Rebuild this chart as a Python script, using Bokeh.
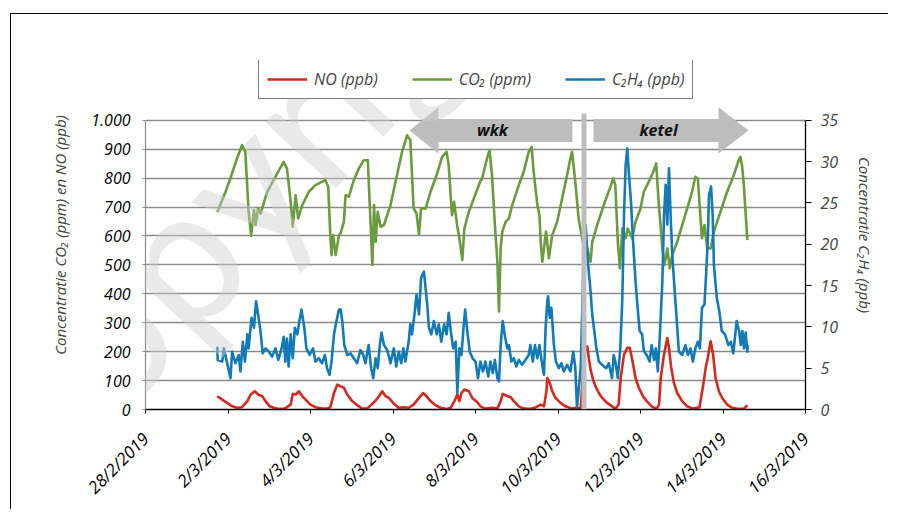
import math
import numpy as np
import pandas as pd
from bokeh.plotting import figure
from bokeh.models import (ColumnDataSource, Range1d, LinearAxis, FixedTicker,
                          CustomJSTickFormatter, Legend, LegendItem,
                          PolyAnnotation, Label)
from bokeh.embed import file_html
from bokeh.resources import INLINE

# ---------------- data ----------------
START = "2019-02-28"
END = "2019-03-16"

# days after 28/2/2019 00:00
no_days = [1.74, 1.86, 1.98, 2.10, 2.22, 2.34, 2.47, 2.55, 2.65, 2.73, 2.83, 2.91, 3.01, 3.11,
           3.23, 3.35, 3.43, 3.52, 3.57, 3.64, 3.72, 3.80, 3.88, 4.00, 4.12, 4.28, 4.40, 4.48,
           4.53, 4.57, 4.65, 4.73, 4.81, 4.89, 5.01, 5.13, 5.25, 5.37, 5.50, 5.58, 5.66, 5.74,
           5.82, 5.90, 6.02, 6.14, 6.26, 6.38, 6.50, 6.63, 6.73, 6.81, 6.91, 7.03, 7.15, 7.30,
           7.40, 7.49, 7.56, 7.61, 7.66, 7.73, 7.84, 7.92, 8.04, 8.12, 8.24, 8.40, 8.53, 8.61,
           8.66, 8.77, 8.85, 8.93, 9.05, 9.17, 9.33, 9.47, 9.58, 9.66, 9.72, 9.74, 9.80, 9.86,
           9.94, 10.06, 10.18, 10.34, 10.44, 10.55, 10.64, 10.71, 10.75, 10.79, 10.85, 10.91,
           10.99, 11.07, 11.19, 11.31, 11.39, 11.47, 11.52, 11.60, 11.68, 11.74, 11.80, 11.88,
           11.96, 12.06, 12.15, 12.27, 12.39, 12.45, 12.49, 12.57, 12.65, 12.69, 12.74, 12.81,
           12.89, 13.01, 13.13, 13.27, 13.43, 13.51, 13.58, 13.63, 13.70, 13.76, 13.82, 13.90,
           13.98, 14.10, 14.22, 14.38, 14.51, 14.59]
no_ppb = [46, 34, 23, 11, 6, 8, 29, 52, 63, 52, 46, 29, 11, 6,
          2, 2, 8, 17, 54, 52, 63, 46, 34, 17, 8, 3, 3, 8,
          34, 57, 86, 80, 75, 52, 29, 15, 3, 3, 20, 31, 46, 63,
          46, 40, 20, 6, 8, 6, 17, 40, 57, 46, 29, 15, 6, 2,
          6, 29, 52, 29, 57, 69, 63, 40, 26, 11, 3, 6, 3, 29,
          54, 46, 43, 29, 11, 3, 2, 8, 17, 11, 63, 109, 92, 63,
          40, 23, 11, 3, 6, 3, 200, 218, 175, 138, 103, 80,
          57, 40, 23, 11, 2, 17, 109, 190, 213, 213, 172, 109,
          75, 46, 29, 11, 2, 17, 109, 190, 247, 213, 149, 92,
          57, 29, 11, 3, 8, 75, 144, 178, 236, 190, 109, 63,
          40, 17, 6, 2, 3, 15]

co2_days = [1.74, 1.94, 2.06, 2.22, 2.34, 2.42, 2.50, 2.56, 2.63, 2.67, 2.73, 2.79, 2.95, 3.15,
            3.35, 3.43, 3.52, 3.57, 3.64, 3.70, 3.80, 3.96, 4.12, 4.36, 4.43, 4.48, 4.51, 4.55,
            4.61, 4.69, 4.73, 4.81, 4.85, 4.93, 5.05, 5.17, 5.29, 5.39, 5.44, 5.50, 5.54, 5.58,
            5.63, 5.70, 5.78, 5.94, 6.06, 6.22, 6.34, 6.42, 6.50, 6.57, 6.63, 6.68, 6.79, 6.91,
            7.07, 7.19, 7.30, 7.35, 7.43, 7.48, 7.56, 7.61, 7.68, 7.73, 7.84, 7.96, 8.12, 8.16,
            8.28, 8.34, 8.40, 8.47, 8.53, 8.57, 8.61, 8.65, 8.73, 8.81, 8.89, 9.05, 9.17, 9.29,
            9.36, 9.41, 9.50, 9.55, 9.58, 9.62, 9.71, 9.78, 9.86, 9.98, 10.10, 10.22, 10.30,
            10.34, 10.42, 10.50, 10.60, 10.71, 10.79, 10.83, 10.95, 11.11, 11.27, 11.34, 11.39,
            11.45, 11.50, 11.56, 11.64, 11.69, 11.80, 11.88, 12.00, 12.08, 12.20, 12.31, 12.38,
            12.44, 12.53, 12.58, 12.65, 12.71, 12.77, 12.89, 13.01, 13.13, 13.25, 13.33, 13.39,
            13.45, 13.49, 13.55, 13.62, 13.70, 13.78, 13.94, 14.10, 14.26, 14.38, 14.42, 14.46,
            14.50, 14.59]
co2_ppm = [682, 753, 800, 869, 914, 891, 684, 601, 690, 638, 695, 678, 753, 805,
           856, 833, 718, 632, 741, 661, 707, 753, 776, 793, 770, 603, 534, 603,
           534, 603, 609, 650, 741, 736, 793, 833, 862, 862, 695, 500, 707, 580,
           684, 632, 638, 707, 787, 891, 948, 931, 695, 678, 606, 695, 695, 753,
           816, 874, 891, 845, 672, 718, 632, 592, 517, 626, 684, 730, 790, 799,
           868, 897, 810, 638, 511, 339, 557, 615, 649, 661, 707, 776, 822, 891,
           908, 822, 707, 672, 580, 511, 615, 523, 603, 649, 730, 810, 868,
           891, 787, 661, 580, 557, 511, 580, 638, 707, 770, 799, 776,
           580, 488, 626, 592, 626, 592, 649, 695, 753, 787, 822, 851,
           718, 557, 500, 557, 488, 534, 580, 638, 695, 753, 805, 799,
           672, 592, 638, 557, 557, 615, 684, 753, 810, 862, 874, 845,
           787, 586]

c2h4_days = [1.74, 1.75, 1.86, 1.90, 1.98, 2.06, 2.10, 2.18, 2.26, 2.30, 2.36, 2.41, 2.47, 2.50,
             2.57, 2.63, 2.68, 2.73, 2.79, 2.84, 2.91, 2.99, 3.07, 3.15, 3.22, 3.30, 3.35, 3.39,
             3.43, 3.47, 3.52, 3.57, 3.62, 3.68, 3.73, 3.78, 3.85, 3.90, 3.98, 4.06, 4.12, 4.20,
             4.28, 4.35, 4.40, 4.46, 4.51, 4.57, 4.63, 4.69, 4.73, 4.77, 4.82, 4.89, 4.97, 5.05,
             5.13, 5.21, 5.28, 5.33, 5.41, 5.47, 5.52, 5.58, 5.63, 5.68, 5.72, 5.78, 5.86, 5.94,
             6.02, 6.08, 6.14, 6.20, 6.25, 6.30, 6.38, 6.42, 6.46, 6.52, 6.57, 6.63, 6.68, 6.75,
             6.79, 6.83, 6.87, 6.93, 6.99, 7.06, 7.11, 7.17, 7.24, 7.30, 7.35, 7.40, 7.46, 7.52,
             7.56, 7.61, 7.66, 7.71, 7.75, 7.80, 7.86, 7.93, 8.00, 8.06, 8.12, 8.18, 8.24, 8.31,
             8.36, 8.42, 8.47, 8.53, 8.57, 8.61, 8.66, 8.71, 8.77, 8.81, 8.87, 8.93, 8.99, 9.05,
             9.13, 9.21, 9.29, 9.33, 9.39, 9.44, 9.50, 9.55, 9.60, 9.66, 9.70, 9.74, 9.76, 9.80,
             9.84, 9.90, 9.95, 10.02, 10.08, 10.14, 10.22, 10.30, 10.37, 10.42, 10.46, 10.55,
             10.64, 10.67, 10.73, 10.79, 10.83, 10.87, 10.93, 10.99, 11.07, 11.17, 11.23, 11.31,
             11.35, 11.39, 11.45, 11.51, 11.56, 11.60, 11.64, 11.68, 11.72, 11.77, 11.82, 11.88,
             11.93, 11.98, 12.04, 12.08, 12.15, 12.22, 12.27, 12.33, 12.37, 12.42, 12.47, 12.53,
             12.57, 12.61, 12.65, 12.69, 12.73, 12.77, 12.83, 12.88, 12.93, 13.01, 13.09, 13.15,
             13.21, 13.27, 13.33, 13.39, 13.44, 13.49, 13.55, 13.59, 13.63, 13.66, 13.71, 13.75,
             13.78, 13.85, 13.91, 13.97, 14.05, 14.13, 14.19, 14.25, 14.33, 14.39, 14.43, 14.47,
             14.51, 14.55, 14.59, 14.60]
c2h4_ppb = [7.6, 6.0, 5.8, 7.4, 5.6, 3.8, 7.0, 5.6, 6.6, 4.6, 8.2, 5.8, 9.1, 7.4,
            11.1, 9.9, 13.1, 11.5, 9.4, 6.8, 7.4, 7.0, 6.4, 7.4, 6.0, 7.4, 8.8, 5.8,
            8.6, 5.2, 9.1, 6.2, 9.9, 9.1, 10.7, 12.1, 9.9, 7.4, 6.6, 7.4, 5.8, 6.2,
            5.6, 6.6, 5.0, 4.2, 5.8, 9.1, 10.7, 12.1, 12.1, 10.7, 7.8, 6.6, 6.8, 6.2,
            5.6, 7.2, 6.6, 5.6, 7.8, 5.0, 3.8, 6.2, 5.0, 7.8, 9.3, 7.8, 7.2, 5.6,
            7.4, 5.2, 7.0, 5.6, 7.4, 5.8, 8.2, 10.3, 9.1, 11.5, 13.9, 11.5, 15.9, 16.7,
            14.7, 12.7, 9.9, 9.1, 10.7, 9.1, 10.3, 8.2, 10.3, 9.1, 11.7, 9.5, 7.4, 8.2,
            2.0, 7.4, 6.6, 9.9, 12.1, 9.5, 7.0, 6.2, 5.8, 3.8, 5.8, 4.6, 5.8, 4.0,
            5.8, 4.4, 6.0, 3.8, 3.4, 7.8, 10.7, 9.0, 7.4, 7.8, 5.8, 6.2, 5.2, 6.0,
            5.4, 6.0, 6.6, 7.8, 5.8, 7.8, 6.2, 7.8, 6.0, 4.2, 9.9, 13.1, 13.7, 11.1,
            12.3, 7.8, 5.8, 5.0, 5.6, 4.6, 5.4, 4.6, 7.0, 5.0, 0.2, 5.0,
            22.0, 22.3, 17.5, 14.3, 11.5, 9.9, 7.4, 5.8, 5.4, 5.0, 5.6, 3.8,
            6.6, 5.8, 3.8, 7.4, 13.5, 23.5, 29.6, 31.6, 28.4, 25.1, 20.3, 15.5,
            12.3, 9.5, 9.1, 7.1, 6.6, 5.8, 7.8, 6.0, 7.4, 4.6, 9.1, 15.5,
            23.5, 27.2, 22.4, 29.2, 23.5, 18.7, 14.3, 10.7, 7.0, 6.6, 7.8, 6.6,
            7.4, 5.8, 7.4, 8.2, 7.4, 12.3, 12.7, 16.3, 20.3, 25.9, 27.0, 23.5,
            17.5, 13.5, 11.9, 9.5, 9.1, 7.8, 8.2, 6.8, 10.7, 9.5, 7.8, 9.5,
            7.4, 9.3, 7.0, 7.8]

left_ticks = list(range(0, 1001, 100))
right_ticks = list(range(0, 36, 5))
x_tick_dates = pd.date_range(START, END, freq="2D")

series_labels = ["NO (ppb)", "CO\u2082 (ppm)", "C\u2082H\u2084 (ppb)"]
phase_labels = ["wkk", "ketel"]

# ---------------- helpers ----------------
base = pd.Timestamp(START)
base_ms = base.value / 1e6
DAY_MS = 86400000.0


def to_dt(days):
    return base + pd.to_timedelta(np.asarray(days, dtype=float), unit="D")


def ms(day):
    return base_ms + day * DAY_MS


FONT = "Open Sans"
RED = "#d5281f"
GREEN = "#6b9a3f"
BLUE = "#137ab5"
ARROW = "#bdbdbd"

# The frame reaches up to the legend so that the legend and the phase arrows
# are not clipped; the axes themselves stop at 1.000 / 35.
Y_TOP = 1000 * 350 / 290
R_TOP = 35 * Y_TOP / 1000

p = figure(width=888, height=509, x_axis_type="datetime",
           x_range=Range1d(pd.Timestamp(START), pd.Timestamp(END)),
           y_range=Range1d(0, Y_TOP),
           output_backend="svg", toolbar_location=None,
           min_border_left=145, min_border_right=83,
           min_border_top=60, min_border_bottom=99)
p.styles = {"box-shadow": "inset 10px 13px 0 0 #ffffff, inset 11px 14px 0 0 #000000"}
p.outline_line_color = None
p.background_fill_color = "white"
p.border_fill_alpha = 0
p.extra_y_ranges = {"c2h4": Range1d(0, R_TOP)}

# grid
p.xgrid.visible = False
p.ygrid.grid_line_color = "#8a8a8a"
p.ygrid.grid_line_width = 1.6

# left axis
la = p.yaxis[0]
la.ticker = FixedTicker(ticks=left_ticks)
la.bounds = (0, 1000)
la.major_label_overrides = {1000: "1.000"}
la.axis_line_color = "#8a8a8a"
la.axis_line_width = 1.2
la.major_tick_line_color = "#8a8a8a"
la.major_tick_out = 3
la.major_tick_in = 0
la.minor_tick_line_color = None
la.major_label_standoff = 12
la.major_label_text_font = FONT
la.major_label_text_font_style = "italic"
la.major_label_text_font_size = "16px"
la.major_label_text_color = "black"
la.axis_label = "Concentratie CO\u2082 (ppm) en NO (ppb)"
la.axis_label_text_font = FONT
la.axis_label_text_font_style = "italic"
la.axis_label_text_font_size = "15px"
la.axis_label_standoff = 18

# bottom axis
xa = p.xaxis[0]
xa.ticker = FixedTicker(ticks=[t.value / 1e6 for t in x_tick_dates])
xa.formatter = CustomJSTickFormatter(code="""
const d = new Date(tick);
return d.getUTCDate() + "/" + (d.getUTCMonth() + 1) + "/" + d.getUTCFullYear();
""")
xa.major_label_orientation = math.pi / 4
xa.axis_line_color = "black"
xa.axis_line_width = 1.3
xa.major_tick_line_color = "black"
xa.major_tick_out = 4
xa.major_tick_in = 0
xa.minor_tick_line_color = None
xa.major_label_standoff = 22
xa.major_label_text_font = FONT
xa.major_label_text_font_style = "italic"
xa.major_label_text_font_size = "17px"
xa.major_label_text_color = "black"

# right axis
ra = LinearAxis(y_range_name="c2h4", ticker=FixedTicker(ticks=right_ticks))
ra.bounds = (0, 35)
ra.axis_line_color = "black"
ra.axis_line_width = 1.3
ra.major_tick_line_color = "black"
ra.major_tick_out = 6
ra.major_tick_in = 0
ra.minor_tick_line_color = None
ra.major_label_standoff = 9
ra.major_label_text_font = FONT
ra.major_label_text_font_style = "italic"
ra.major_label_text_font_size = "16px"
ra.axis_label = "Concentratie C\u2082H\u2084 (ppb)"
ra.axis_label_text_font = FONT
ra.axis_label_text_font_style = "italic"
ra.axis_label_text_font_size = "15px"
ra.axis_label_standoff = 14
p.add_layout(ra, "right")

# series
src_no = ColumnDataSource(dict(x=to_dt(no_days), y=no_ppb))
src_co2 = ColumnDataSource(dict(x=to_dt(co2_days), y=co2_ppm))
src_c2h4 = ColumnDataSource(dict(x=to_dt(c2h4_days), y=c2h4_ppb))

r_no = p.line("x", "y", source=src_no, color=RED, line_width=2.6, line_join="round")
r_co2 = p.line("x", "y", source=src_co2, color=GREEN, line_width=2.6, line_join="round")
r_c2h4 = p.line("x", "y", source=src_c2h4, color=BLUE, line_width=2.6, line_join="round",
                y_range_name="c2h4")

legend = Legend(items=[LegendItem(label=series_labels[0], renderers=[r_no]),
                       LegendItem(label=series_labels[1], renderers=[r_co2]),
                       LegendItem(label=series_labels[2], renderers=[r_c2h4])],
                location=(113, 310), orientation="horizontal",
                border_line_color="black", border_line_width=1,
                background_fill_color="white", background_fill_alpha=1,
                padding=8, spacing=34, margin=0,
                glyph_width=40, glyph_height=20, label_standoff=7,
                label_height=20,
                label_text_font=FONT, label_text_font_style="italic",
                label_text_font_size="16px")
p.add_layout(legend, "center")

# phase arrows (decoration)
yc, bh, hh = 965, 40, 80
wkk_tip, wkk_base, wkk_end = 6.40, 7.10, 10.35
kt_start, kt_base, kt_tip = 10.86, 13.89, 14.62
p.add_layout(PolyAnnotation(
    xs=[ms(wkk_tip), ms(wkk_base), ms(wkk_base), ms(wkk_end), ms(wkk_end), ms(wkk_base), ms(wkk_base)],
    ys=[yc, yc + hh, yc + bh, yc + bh, yc - bh, yc - bh, yc - hh],
    fill_color=ARROW, fill_alpha=1, line_color=None))
p.add_layout(PolyAnnotation(
    xs=[ms(kt_start), ms(kt_base), ms(kt_base), ms(kt_tip), ms(kt_base), ms(kt_base), ms(kt_start)],
    ys=[yc + bh, yc + bh, yc + hh, yc, yc - hh, yc - bh, yc - bh],
    fill_color=ARROW, fill_alpha=1, line_color=None))
# separator bar
p.add_layout(PolyAnnotation(
    xs=[ms(10.57), ms(10.69), ms(10.69), ms(10.57)],
    ys=[0, 0, 1024, 1024],
    fill_color=ARROW, fill_alpha=1, line_color=None))

for txt, day in zip(phase_labels, [8.41, 12.44]):
    p.add_layout(Label(x=ms(day), y=yc, text=txt, text_align="center",
                       text_baseline="middle", text_font=FONT,
                       text_font_style="bold italic", text_font_size="16px",
                       text_color="#111111"))

# watermark
p.add_layout(Label(x=ms(-2.085), y=-462, text="Copyright", angle=47, angle_units="deg",
                   text_font="Lato", text_font_size="190px", text_color="#cfcfcf",
                   text_alpha=0.45, level="overlay"))

open("out.html", "w").write(file_html(p, INLINE))
